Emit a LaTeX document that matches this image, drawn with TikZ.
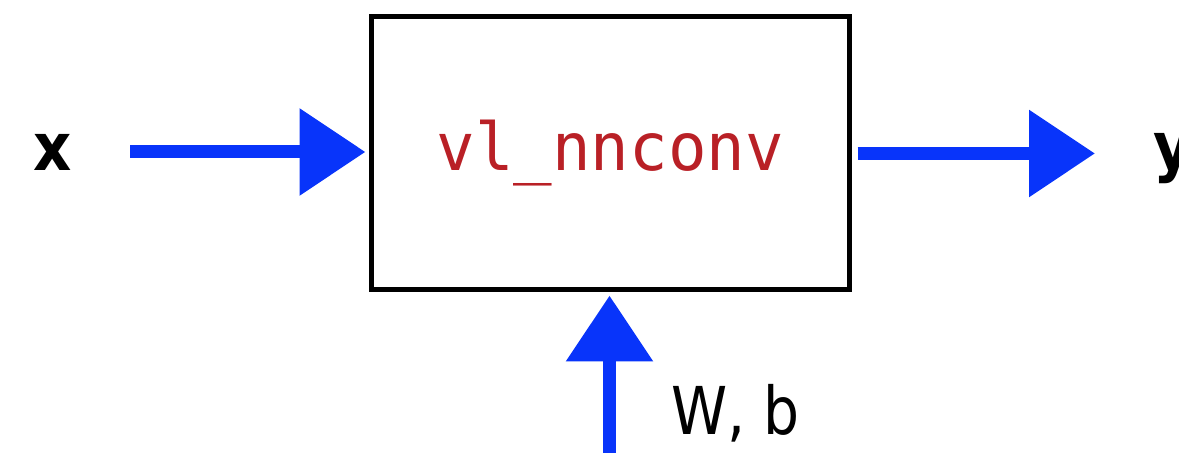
\documentclass[tikz,border=0pt]{standalone}
\usepackage{graphicx}
\usepackage{fontspec}
\setmainfont{DejaVu Sans}
\setmonofont{DejaVu Sans Mono}
\usetikzlibrary{arrows.meta}
\definecolor{flowblue}{RGB}{8,52,250}
\definecolor{fnred}{RGB}{185,32,38}

\begin{document}
\begin{tikzpicture}[x=1pt, y=1pt,
    flow/.style={line width=13pt, flowblue, -{Triangle[length=66pt, width=84pt]}},
    lbl/.style={inner sep=0pt, font=\fontsize{66}{70}\selectfont}]
            \useasboundingbox (0,0) rectangle (1179,457);
            \node[draw, line width=5pt, minimum width=477.5pt, minimum height=273pt, inner sep=0pt,
                  font=\fontsize{66}{70}\selectfont\ttfamily, text=fnred] (conv) at (610.25,303.5) {\scalebox{0.97}[1]{vl\_nnconv}};
            \node[lbl, font=\fontsize{66}{70}\selectfont\bfseries] (x) at (53,305) {\scalebox{0.9}[1]{x}};
            \node[lbl, font=\fontsize{66}{70}\selectfont\bfseries, anchor=base west] (y) at (1153,287) {\scalebox{0.9}[1]{y}};
            \node[lbl, anchor=base west] (wb) at (671,22) {\scalebox{0.86}[1]{W, b}};
            \coordinate (wbin) at (609.5,4);
            \draw[flow, shorten <=58pt, shorten >=3.5pt] (x) -- (x -| conv.west);
            \draw[flow, shorten <=6pt, shorten >=58pt] (conv.east) -- (conv.east -| y.west);
            \draw[flow, shorten >=3pt] (wbin) -- (wbin |- conv.south);
        \end{tikzpicture}
\end{document}
